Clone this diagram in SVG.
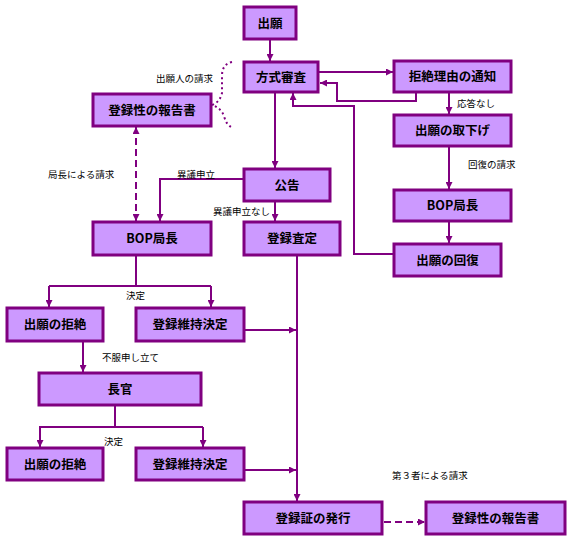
<svg xmlns="http://www.w3.org/2000/svg" width="572" height="540" viewBox="0 0 572 540">
<defs>
<style>
.box{fill:#cc99ff;stroke:#800080;stroke-width:3}
.bt{font-family:"Noto Sans CJK JP","Liberation Sans",sans-serif;font-size:12.5px;font-weight:bold;fill:#000;text-anchor:middle}
.lb{font-family:"Noto Sans CJK JP","Liberation Sans",sans-serif;font-size:9.5px;fill:#000}
.ln{fill:none;stroke:#800080;stroke-width:2}
.dash{stroke-dasharray:7,4}
.dot{stroke-dasharray:2,3}
</style>
<marker id="ah" viewBox="0 0 8 8" refX="8" refY="4" markerWidth="7" markerHeight="7" markerUnits="userSpaceOnUse" orient="auto-start-reverse">
<path d="M0,0 L8,4 L0,8 z" fill="#800080"/>
</marker>
</defs>
<rect width="572" height="540" fill="#fff"/>
<g id="connectors">
<path class="ln" d="M270,40 V61" marker-end="url(#ah)"/>
<path class="ln" d="M319,72 H393" marker-end="url(#ah)"/>
<path class="ln" d="M416,93 V101 H337 V83 H320" marker-end="url(#ah)"/>
<path class="ln" d="M393,254 H354 V106 H293 V93" marker-end="url(#ah)"/>
<path class="ln" d="M275,93 V168" marker-end="url(#ah)"/>
<path class="ln" d="M449,93 V114" marker-end="url(#ah)"/>
<path class="ln" d="M449,147 V189" marker-end="url(#ah)"/>
<path class="ln" d="M449,222 V243" marker-end="url(#ah)"/>
<path class="ln" d="M243,179 H160 V221" marker-end="url(#ah)"/>
<path class="ln" d="M275,202 V221" marker-end="url(#ah)"/>
<path class="ln dash" d="M136,127 V221" marker-start="url(#ah)" marker-end="url(#ah)"/>
<path class="ln dot" d="M232,62 Q222,64 222,76 L222,93 Q220,102 212,105 Q221,108 224,116 Q226,124 231,127"/>
<path class="ln" d="M136,256 V286"/>
<path class="ln" d="M49,286 H211"/>
<path class="ln" d="M49,286 V307" marker-end="url(#ah)"/>
<path class="ln" d="M211,286 V307" marker-end="url(#ah)"/>
<path class="ln" d="M83,342 V372" marker-end="url(#ah)"/>
<path class="ln" d="M245,330 H296" marker-end="url(#ah)"/>
<path class="ln" d="M297,256 V501" marker-end="url(#ah)"/>
<path class="ln" d="M115,406 V427"/>
<path class="ln" d="M39,427 H203"/>
<path class="ln" d="M40,427 V447" marker-end="url(#ah)"/>
<path class="ln" d="M203,427 V447" marker-end="url(#ah)"/>
<path class="ln" d="M245,470 H296" marker-end="url(#ah)"/>
<path class="ln dash" d="M384,522 H425" marker-end="url(#ah)"/>
</g>
<g id="labels">
<text class="lb" x="156" y="82">出願人の請求</text>
<text class="lb" x="48" y="178">局長による請求</text>
<text class="lb" x="177" y="178">異議申立</text>
<text class="lb" x="213" y="215">異議申立なし</text>
<text class="lb" x="457" y="107">応答なし</text>
<text class="lb" x="468" y="168">回復の請求</text>
<text class="lb" x="126" y="299">決定</text>
<text class="lb" x="102" y="361">不服申し立て</text>
<text class="lb" x="104" y="445">決定</text>
<text class="lb" x="392" y="479">第３者による請求</text>
</g>
<g id="n-shutsugan"><rect class="box" x="244" y="7" width="52" height="32"/><text class="bt" x="270" y="28">出願</text></g>
<g id="n-hoshiki"><rect class="box" x="244" y="62" width="74" height="30"/><text class="bt" x="281" y="82">方式審査</text></g>
<g id="n-report1"><rect class="box" x="93" y="94" width="118" height="32"/><text class="bt" x="152" y="115">登録性の報告書</text></g>
<g id="n-kyozetsu-tsuchi"><rect class="box" x="394" y="61" width="117" height="31"/><text class="bt" x="452.5" y="81">拒絶理由の通知</text></g>
<g id="n-torisage"><rect class="box" x="394" y="115" width="117" height="31"/><text class="bt" x="452.5" y="135">出願の取下げ</text></g>
<g id="n-bop-r"><rect class="box" x="394" y="190" width="117" height="31"/><text class="bt" x="452.5" y="210">BOP局長</text></g>
<g id="n-kaifuku"><rect class="box" x="394" y="244" width="107" height="32"/><text class="bt" x="447.5" y="265">出願の回復</text></g>
<g id="n-kokoku"><rect class="box" x="244" y="169" width="86" height="32"/><text class="bt" x="287" y="190">公告</text></g>
<g id="n-bop-l"><rect class="box" x="93" y="222" width="118" height="33"/><text class="bt" x="152" y="243">BOP局長</text></g>
<g id="n-satei"><rect class="box" x="244" y="222" width="96" height="33"/><text class="bt" x="292" y="243">登録査定</text></g>
<g id="n-kyozetsu1"><rect class="box" x="7" y="308" width="96" height="33"/><text class="bt" x="55" y="329">出願の拒絶</text></g>
<g id="n-iji1"><rect class="box" x="136" y="308" width="108" height="33"/><text class="bt" x="190" y="329">登録維持決定</text></g>
<g id="n-chokan"><rect class="box" x="39" y="373" width="162" height="32"/><text class="bt" x="120" y="394">長官</text></g>
<g id="n-kyozetsu2"><rect class="box" x="7" y="448" width="96" height="32"/><text class="bt" x="55" y="469">出願の拒絶</text></g>
<g id="n-iji2"><rect class="box" x="136" y="448" width="108" height="32"/><text class="bt" x="190" y="469">登録維持決定</text></g>
<g id="n-hakko"><rect class="box" x="244" y="502" width="138" height="32"/><text class="bt" x="313" y="523">登録証の発行</text></g>
<g id="n-report2"><rect class="box" x="426" y="502" width="139" height="32"/><text class="bt" x="495.5" y="523">登録性の報告書</text></g>
</svg>
